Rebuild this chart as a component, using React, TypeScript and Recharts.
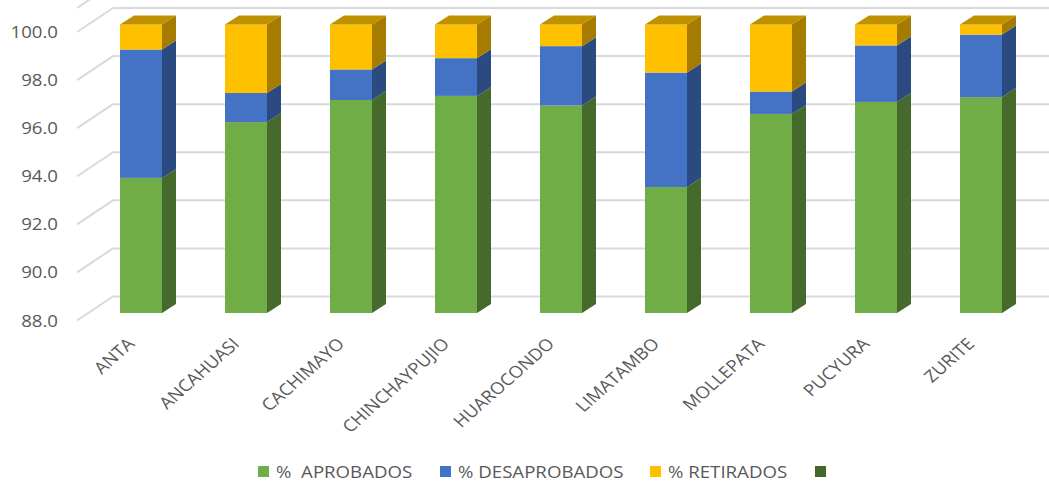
import { Bar, BarChart, CartesianGrid, Legend, XAxis, YAxis } from "recharts";

const districts = ["ANTA", "ANCAHUASI", "CACHIMAYO", "CHINCHAYPUJIO", "HUAROCONDO", "LIMATAMBO", "MOLLEPATA", "PUCYURA", "ZURITE"];
const aprobados = [93.62, 95.94, 96.86, 97.03, 96.63, 93.24, 96.28, 96.78, 96.98];
const desaprobados = [5.34, 1.21, 1.27, 1.57, 2.47, 4.76, 0.93, 2.35, 2.6];
const retirados = [1.04, 2.85, 1.87, 1.4, 0.9, 2.0, 2.79, 0.87, 0.42];
const vacia = [0, 0, 0, 0, 0, 0, 0, 0, 0];
const yTicks = [88, 90, 92, 94, 96, 98, 100];

const data = districts.map((name, i) => ({
  name,
  aprobados: aprobados[i],
  desaprobados: desaprobados[i],
  retirados: retirados[i],
  vacia: vacia[i],
}));

const FONT = "'Open Sans', sans-serif";
const TEXT_COLOR = "#595959";
const GRID_COLOR = "#d9d9d9";
const DEPTH_X = 14;
const DEPTH_Y = 9;
// the source picture is stretched sideways, text included
const STRETCH = 1.13;
const legendLefts = [258, 440, 650, 815];

function Box3D(props: any) {
  const { x, y, width, height, background, fill, side, top } = props;
  if (!height || height <= 0) return null;
  const floor = background.y + background.height;
  const bottom = Math.min(y + height, floor);
  const right = x + width;
  return (
    <g>
      <rect x={x} y={y} width={width} height={bottom - y} fill={fill} />
      <polygon
        points={`${right},${y} ${right + DEPTH_X},${y - DEPTH_Y} ${right + DEPTH_X},${bottom - DEPTH_Y} ${right},${bottom}`}
        fill={side}
      />
      {top && (
        <polygon
          points={`${x},${y} ${x + DEPTH_X},${y - DEPTH_Y} ${right + DEPTH_X},${y - DEPTH_Y} ${right},${y}`}
          fill={top}
        />
      )}
    </g>
  );
}

function GridLine(props: any) {
  const { x1, y1, x2 } = props;
  return (
    <g stroke={GRID_COLOR} strokeWidth={2} fill="none">
      <line x1={x1 - 11} y1={y1 + 7.5} x2={x1 + 25} y2={y1 - 16.5} />
      <line x1={x1 + 25} y1={y1 - 16.5} x2={x2 + 16} y2={y1 - 16.5} />
    </g>
  );
}

function YTick(props: any) {
  const { y, payload } = props;
  return (
    <text
      transform={`translate(58,${y + 13.5}) scale(${STRETCH},1)`}
      textAnchor="end"
      fontFamily={FONT}
      fontSize={16.5}
      fill={TEXT_COLOR}
    >
      {payload.value.toFixed(1)}
    </text>
  );
}

function XTick(props: any) {
  const { x, y, payload } = props;
  return (
    <text
      transform={`translate(${x - 5},${y + 24}) scale(${STRETCH},1) rotate(-45)`}
      textAnchor="end"
      fontFamily={FONT}
      fontSize={16.5}
      fill={TEXT_COLOR}
    >
      {payload.value}
    </text>
  );
}

function ChartLegend(props: any) {
  return (
    <div style={{ position: "relative", height: 30, fontFamily: FONT, fontSize: 16.5, color: TEXT_COLOR }}>
      {props.payload.map((entry: any, i: number) => (
        <div key={i} style={{ position: "absolute", left: legendLefts[i], top: 9, whiteSpace: "pre", display: "flex", alignItems: "center" }}>
          <span style={{ width: 11, height: 11, background: entry.color, marginRight: 7, display: "inline-block" }} />
          <span style={{ display: "inline-block", transform: `scaleX(${STRETCH})`, transformOrigin: "left center" }}>{entry.value}</span>
        </div>
      ))}
    </div>
  );
}

export default function App() {
  return (
    <div style={{ position: "absolute", left: 0, top: 0, width: 1049, height: 481, background: "#fff" }}>
      <BarChart
        width={1049}
        height={481}
        data={data}
        margin={{ top: 0.46, right: 16, bottom: 0, left: 28 }}
        barSize={42}
      >
        <CartesianGrid vertical={false} horizontal={(p: any) => <GridLine key={p.key} {...p} />} />
        <XAxis dataKey="name" interval={0} axisLine={false} tickLine={false} height={138} tick={<XTick />} />
        <YAxis width={60} domain={[88, 101]} ticks={yTicks} allowDataOverflow axisLine={false} tickLine={false} tick={<YTick />} />
        <Legend content={<ChartLegend />} itemSorter={null} wrapperStyle={{ left: 0, width: 1049 }} />
        <Bar dataKey="aprobados" name="%  APROBADOS" stackId="a" fill="#70ad47" isAnimationActive={false}
          shape={(p: any) => <Box3D {...p} side="#466a2b" />} />
        <Bar dataKey="desaprobados" name="% DESAPROBADOS" stackId="a" fill="#4472c4" isAnimationActive={false}
          shape={(p: any) => <Box3D {...p} side="#2a4a80" />} />
        <Bar dataKey="retirados" name="% RETIRADOS" stackId="a" fill="#ffc000" isAnimationActive={false}
          shape={(p: any) => <Box3D {...p} side="#a67c00" top="#bf9000" />} />
        <Bar dataKey="vacia" name=" " stackId="a" fill="#43682b" isAnimationActive={false}
          shape={(p: any) => <Box3D {...p} side="#43682b" />} />
      </BarChart>
    </div>
  );
}
